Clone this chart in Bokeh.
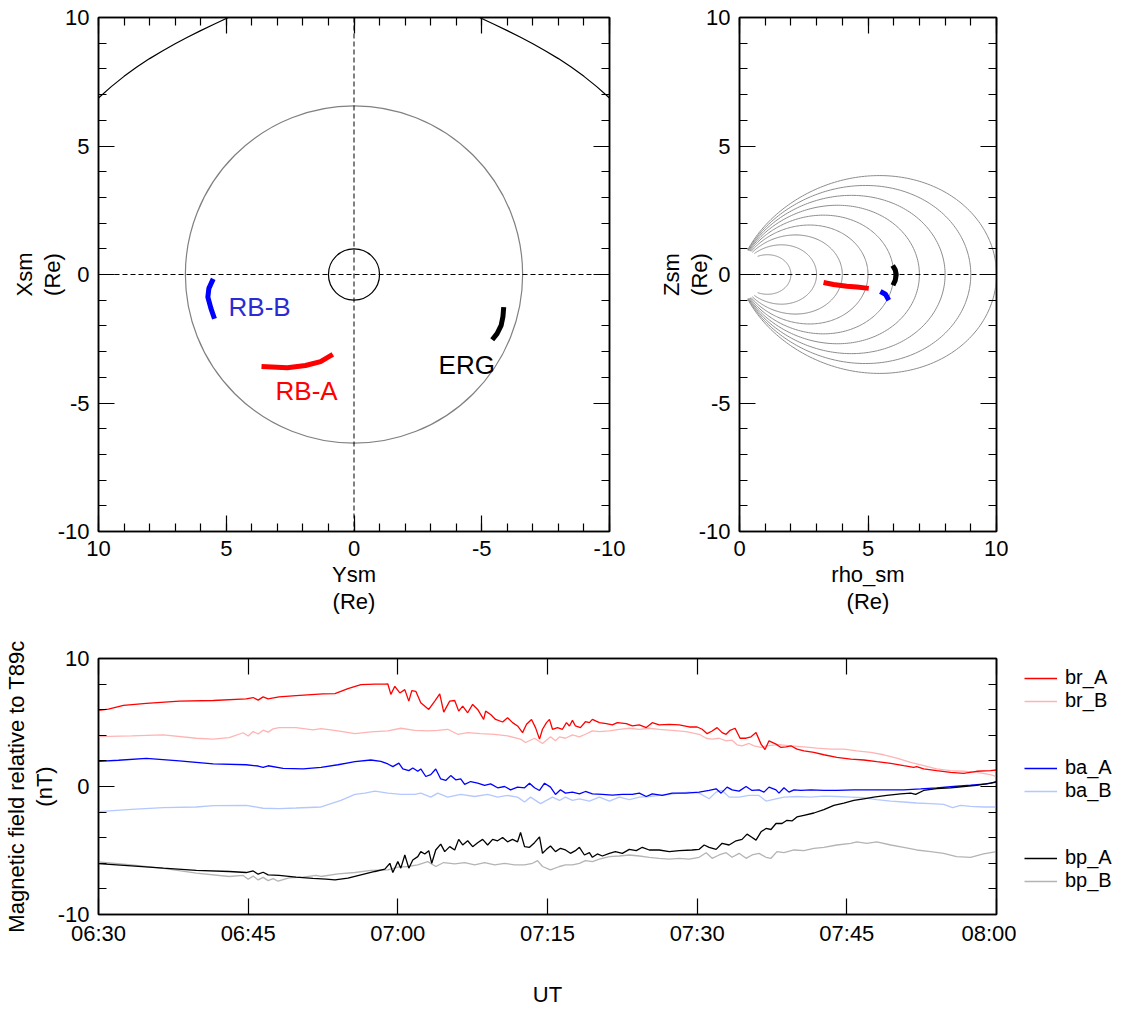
import numpy as np
import pandas as pd
from bokeh.plotting import figure
from bokeh.layouts import column, row
from bokeh.models import (Range1d, LinearAxis, SingleIntervalTicker, FixedTicker,
                          DatetimeTickFormatter, Legend, LegendItem, Span, Label)
from bokeh.embed import file_html
from bokeh.resources import INLINE

FONT = "Liberation Sans"
FS = "22px"

# ---------------- data: SM X-Y plane (Re) ----------------
earth_radius = 1.0
geo_radius = 6.6
mp_ysm = [11.0, 10.5, 10.0, 9.5, 9.0, 8.5, 8.0, 7.5, 7.0, 6.5, 6.0, 5.5, 5.0, 4.5, 4.0, 2.0, 0.0,
          -2.0, -4.0, -4.5, -5.0, -5.5, -6.0, -6.5, -7.0, -7.5, -8.0, -8.5, -9.0, -9.5, -10.0, -10.5, -11.0]
mp_xsm = [5.93, 6.41, 6.87, 7.31, 7.71, 8.07, 8.40, 8.70, 8.98, 9.24, 9.49, 9.73, 9.96, 10.18, 10.38, 10.75, 10.85,
          10.75, 10.38, 10.18, 9.96, 9.73, 9.49, 9.24, 8.98, 8.70, 8.40, 8.07, 7.71, 7.31, 6.87, 6.41, 5.93]

rbb_ysm = [5.51, 5.68, 5.72, 5.60, 5.46]
rbb_xsm = [-0.17, -0.54, -0.88, -1.32, -1.72]
rba_ysm = [3.62, 2.61, 1.90, 1.31, 0.83]
rba_xsm = [-3.58, -3.63, -3.54, -3.39, -3.11]
erg_ysm = [-5.86, -5.83, -5.76, -5.60, -5.41]
erg_xsm = [-1.27, -1.63, -1.98, -2.30, -2.54]

# ---------------- data: meridional plane (Re) ----------------
L_shells = [2, 3, 4, 5, 6, 7, 8, 9, 10]
rba_rho = [3.27, 3.66, 4.18, 4.57, 5.03]
rba_z = [-0.31, -0.39, -0.46, -0.49, -0.54]
rbb_rho = [5.48, 5.68, 5.81]
rbb_z = [-0.66, -0.77, -1.00]
erg_rho = [5.96, 6.06, 6.10, 6.06, 5.97]
erg_z = [0.35, 0.18, 0.0, -0.23, -0.42]

# ---------------- data: magnetic field residuals (minutes after 06:30, nT) ----------------
br_A = [(0, 5.95), (1.0, 6.05), (2.5, 6.33), (4.8, 6.49), (8.1, 6.67), (11.5, 6.72), (14.8, 6.85),
        (15.5, 6.95), (16.0, 6.75), (16.5, 7.0), (17.0, 6.85), (18.1, 7.0), (19.8, 7.1), (22.5, 7.23),
        (23.7, 7.26), (25.0, 7.65), (26.3, 7.96), (27.7, 8.0), (28.7, 8.0), (29.0, 8.01), (29.3, 7.2),
        (29.7, 7.83), (30.2, 7.31), (30.7, 7.57), (31.1, 6.67), (31.4, 7.49), (31.8, 7.44), (32.3, 6.54),
        (33.1, 6.02), (33.7, 6.67), (34.2, 7.24), (34.6, 5.81), (35.2, 6.67), (35.7, 6.72), (36.1, 5.89),
        (36.5, 6.28), (37.0, 5.76), (37.5, 6.41), (38.0, 6.02), (38.6, 5.24), (38.8, 5.89), (39.3, 5.63),
        (39.8, 5.24), (40.5, 5.04), (41.0, 5.37), (41.5, 4.99), (42.0, 4.73), (42.5, 4.21), (42.9, 4.86),
        (43.4, 5.24), (43.8, 4.6), (44.2, 3.7), (44.5, 4.47), (44.9, 4.99), (45.2, 5.24), (45.5, 4.47),
        (46.0, 4.6), (46.5, 4.47), (46.9, 4.99), (47.2, 4.73), (47.5, 5.17), (47.8, 4.73), (48.3, 4.6),
        (48.8, 5.06), (49.2, 4.99), (49.5, 5.24), (50.2, 4.99), (50.9, 4.91), (51.5, 4.81), (52.0, 4.99),
        (52.9, 4.91), (53.5, 4.73), (54.2, 4.81), (54.9, 4.6), (55.5, 4.99), (56.2, 4.81), (57.2, 4.86),
        (58.2, 4.81), (59.2, 4.65), (60.0, 4.65), (60.5, 4.47), (61.0, 4.13), (61.5, 4.34), (62.0, 4.6),
        (62.5, 4.21), (62.9, 4.08), (63.3, 4.39), (63.8, 4.55), (64.3, 3.77), (64.9, 3.77), (65.4, 3.88),
        (65.9, 4.21), (66.4, 3.31), (66.8, 2.89), (67.2, 3.57), (67.9, 3.31), (68.4, 3.05), (68.9, 3.1),
        (69.4, 3.18), (70.0, 2.92), (70.7, 2.79), (71.7, 2.66), (72.7, 2.48), (74.0, 2.27), (75.4, 2.14),
        (76.7, 2.07), (78.0, 1.94), (79.4, 1.81), (80.7, 1.63), (81.7, 1.5), (82.0, 1.55), (82.7, 1.37),
        (84.0, 1.24), (85.4, 1.11), (86.7, 1.03), (88.0, 1.19), (89.4, 1.24), (90.0, 1.29)]

br_B = [(0, 3.9), (3.3, 3.95), (6.5, 4.03), (9.8, 3.77), (11.5, 3.7), (13.1, 3.82), (14.5, 4.2),
        (15.0, 3.95), (15.5, 4.3), (16.0, 4.1), (16.5, 4.4), (17.0, 4.25), (17.5, 4.5), (18.1, 4.6),
        (19.8, 4.6), (21.5, 4.42), (22.3, 4.52), (24.0, 4.34), (25.7, 4.13), (27.3, 4.26), (29.0, 4.34),
        (30.3, 4.55), (31.7, 4.39), (33.0, 4.34), (34.0, 4.39), (35.0, 4.47), (36.0, 4.08), (37.0, 4.21),
        (38.3, 4.13), (39.7, 4.08), (41.0, 3.95), (42.3, 3.7), (42.8, 3.44), (43.7, 3.77), (44.5, 3.36),
        (45.3, 3.88), (45.8, 3.57), (46.2, 3.88), (46.8, 3.77), (47.5, 4.03), (48.2, 3.88), (48.8, 4.08),
        (49.5, 4.34), (50.2, 4.29), (51.2, 4.34), (52.2, 4.47), (53.2, 4.55), (54.2, 4.47), (55.2, 4.55),
        (56.2, 4.47), (57.5, 4.39), (58.9, 4.29), (60.2, 4.08), (60.9, 3.77), (61.5, 3.7), (62.2, 3.77),
        (62.9, 3.57), (63.5, 3.62), (64.0, 3.26), (64.5, 3.18), (65.2, 3.36), (65.7, 3.18), (66.4, 3.05),
        (66.9, 3.18), (67.9, 3.26), (68.4, 3.26), (69.4, 3.18), (70.7, 3.1), (72.0, 3.0), (73.4, 2.92),
        (74.7, 2.92), (76.0, 2.79), (77.4, 2.66), (78.7, 2.48), (80.0, 2.22), (81.4, 1.89), (82.7, 1.63),
        (84.0, 1.37), (85.4, 1.24), (86.7, 1.19), (88.0, 1.11), (89.4, 0.93), (90.0, 0.78)]

ba_A = [(0, 1.96), (2.0, 2.05), (4.8, 2.2), (8.1, 2.0), (11.5, 1.76), (14.8, 1.7), (16.0, 1.6),
        (16.5, 1.5), (17.0, 1.62), (18.5, 1.42), (20.5, 1.37), (22.3, 1.5), (24.0, 1.7), (25.7, 1.94),
        (27.3, 2.07), (28.3, 1.96), (29.0, 1.76), (29.5, 1.55), (30.1, 1.83), (30.5, 1.37), (31.1, 1.24),
        (31.5, 1.45), (32.0, 1.19), (32.3, 1.37), (32.8, 0.78), (33.3, 0.93), (33.8, 1.37), (34.3, 0.59),
        (34.8, 0.47), (35.3, 0.85), (35.8, 0.52), (36.3, 0.59), (36.7, 0.16), (37.3, 0.39), (38.0, 0.26),
        (38.7, 0.08), (39.3, 0.21), (40.0, -0.1), (40.7, 0.0), (41.3, -0.26), (42.0, -0.05), (42.7, -0.1),
        (43.2, 0.26), (43.7, -0.1), (44.2, -0.31), (44.7, 0.26), (45.3, -0.05), (45.8, -0.62), (46.3, -0.26),
        (46.8, -0.52), (47.5, -0.44), (48.2, -0.57), (48.8, -0.39), (49.5, -0.57), (50.5, -0.62),
        (51.5, -0.67), (52.5, -0.62), (53.5, -0.62), (54.2, -0.52), (54.9, -0.78), (55.5, -0.57),
        (56.5, -0.7), (57.5, -0.52), (58.9, -0.52), (60.2, -0.44), (61.2, -0.31), (61.9, -0.18),
        (62.4, -0.52), (63.0, -0.05), (63.5, -0.26), (64.2, -0.36), (64.9, 0.0), (65.5, -0.31),
        (66.2, -0.26), (66.7, -0.44), (67.2, -0.05), (67.9, -0.26), (68.2, -0.52), (68.7, -0.1),
        (69.2, -0.44), (69.7, -0.26), (70.4, -0.31), (71.4, -0.26), (72.7, -0.31), (74.0, -0.31),
        (75.7, -0.26), (77.4, -0.26), (79.0, -0.26), (80.7, -0.26), (82.4, -0.18), (84.0, -0.1),
        (85.7, 0.0), (87.4, 0.1), (89.0, 0.21), (90.0, 0.34)]

ba_B = [(0, -1.96), (3.3, -1.78), (6.5, -1.65), (9.8, -1.6), (11.5, -1.5), (14.8, -1.47), (16.5, -1.7),
        (18.1, -1.73), (19.8, -1.68), (22.3, -1.6), (24.3, -1.09), (25.7, -0.62), (26.7, -0.52),
        (27.7, -0.36), (29.0, -0.52), (30.3, -0.62), (31.7, -0.62), (32.3, -0.52), (33.3, -0.83),
        (34.0, -0.52), (35.0, -0.83), (36.3, -0.62), (37.7, -0.78), (39.0, -0.62), (40.0, -0.83),
        (41.0, -0.7), (42.0, -0.83), (42.7, -1.21), (43.3, -0.83), (44.3, -1.34), (45.5, -0.83),
        (46.2, -1.09), (46.8, -0.83), (47.5, -1.09), (48.2, -0.96), (49.2, -1.14), (50.2, -0.83),
        (51.2, -1.14), (52.2, -0.83), (53.2, -1.03), (54.2, -0.83), (55.2, -0.78), (56.2, -0.7),
        (57.2, -0.62), (58.2, -0.52), (59.2, -0.44), (60.2, -0.52), (61.2, -0.96), (61.9, -0.44),
        (62.5, -0.31), (63.2, -0.83), (64.2, -0.83), (65.2, -0.7), (66.2, -0.7), (66.9, -1.14),
        (67.9, -0.96), (68.7, -0.83), (70.0, -0.78), (71.4, -0.83), (72.7, -0.75), (74.0, -0.78),
        (75.4, -0.83), (76.7, -0.88), (78.0, -1.03), (79.4, -1.14), (80.7, -1.21), (82.0, -1.29),
        (83.4, -1.34), (84.7, -1.4), (85.6, -1.65), (86.4, -1.47), (87.4, -1.55), (88.7, -1.6), (90.0, -1.6)]

bp_A = [(0, -6.02), (3.3, -6.2), (6.5, -6.38), (9.8, -6.56), (13.1, -6.64), (14.8, -6.72), (15.5, -6.6),
        (16.0, -6.85), (16.5, -6.7), (17.0, -6.9), (18.1, -6.95), (19.8, -7.08), (21.5, -7.18),
        (22.8, -7.23), (23.7, -7.29), (25.0, -7.16), (26.3, -6.9), (27.7, -6.64), (28.7, -6.46),
        (29.2, -6.0), (29.5, -6.72), (30.0, -5.87), (30.3, -6.38), (30.7, -5.35), (31.1, -6.38),
        (31.5, -5.74), (32.0, -5.48), (32.3, -5.09), (32.7, -5.27), (33.1, -5.01), (33.4, -6.0),
        (33.8, -4.96), (34.3, -4.5), (34.7, -5.09), (35.2, -4.7), (35.7, -4.96), (36.1, -4.13),
        (36.5, -4.57), (37.0, -4.24), (37.5, -4.7), (38.0, -4.39), (38.5, -4.13), (39.0, -4.57),
        (39.5, -4.13), (40.0, -4.24), (40.5, -3.98), (41.0, -4.32), (41.5, -4.13), (42.0, -4.32),
        (42.3, -3.59), (42.7, -4.7), (43.2, -4.75), (43.7, -4.39), (44.2, -3.93), (44.5, -5.22),
        (44.9, -4.91), (45.3, -4.65), (45.8, -5.09), (46.3, -4.83), (46.8, -4.96), (47.3, -5.22),
        (47.8, -5.01), (48.2, -4.75), (48.7, -5.35), (49.2, -5.17), (49.5, -5.53), (50.0, -5.27),
        (50.5, -5.43), (51.2, -5.22), (51.8, -5.09), (52.5, -5.22), (53.2, -4.91), (53.9, -5.01),
        (54.5, -4.75), (55.2, -4.96), (56.2, -4.96), (57.2, -5.09), (58.2, -5.01), (59.5, -4.96),
        (60.2, -4.91), (60.7, -4.57), (61.2, -4.75), (61.9, -4.91), (62.5, -4.44), (63.2, -4.57),
        (63.9, -4.24), (64.5, -4.13), (65.0, -3.72), (65.4, -3.93), (65.9, -4.19), (66.4, -3.54),
        (66.9, -3.28), (67.4, -3.36), (67.9, -2.89), (68.5, -2.89), (69.0, -2.64), (69.5, -2.69),
        (70.0, -2.38), (70.7, -2.25), (71.7, -2.07), (72.7, -1.81), (73.7, -1.47), (74.7, -1.29),
        (75.7, -1.09), (76.7, -0.96), (77.7, -0.83), (79.0, -0.7), (80.4, -0.57), (81.4, -0.52),
        (81.9, -0.62), (82.7, -0.31), (84.0, -0.16), (85.4, -0.1), (86.7, 0.0), (88.0, 0.08),
        (89.4, 0.26), (90.0, 0.39)]

bp_B = [(0, -5.9), (3.3, -6.12), (6.5, -6.4), (9.8, -6.77), (13.1, -7.03), (14.5, -6.95), (15.0, -7.25),
        (15.5, -7.0), (16.0, -7.3), (16.5, -7.1), (17.0, -7.35), (17.5, -7.2), (18.0, -7.4), (19.1, -7.13),
        (20.5, -7.08), (21.8, -6.95), (22.3, -7.03), (24.0, -6.82), (25.7, -6.72), (27.3, -6.56),
        (29.0, -6.51), (30.0, -6.3), (31.0, -6.25), (32.0, -6.12), (33.0, -5.87), (33.8, -6.25),
        (34.6, -5.94), (35.7, -6.05), (36.7, -5.94), (37.7, -6.12), (38.7, -5.94), (39.7, -6.12),
        (40.7, -6.0), (41.7, -6.12), (42.7, -6.12), (43.5, -6.0), (44.0, -5.79), (44.5, -6.25),
        (45.3, -6.51), (46.2, -6.25), (46.8, -6.12), (47.5, -6.12), (48.2, -6.0), (48.8, -5.79),
        (49.5, -5.87), (50.2, -5.68), (51.2, -5.48), (52.2, -5.43), (53.2, -5.35), (54.2, -5.43),
        (55.2, -5.53), (56.2, -5.61), (57.2, -5.68), (58.2, -5.61), (59.2, -5.68), (60.2, -5.53),
        (60.9, -5.17), (61.5, -5.61), (62.2, -5.35), (62.9, -5.17), (63.5, -5.53), (64.2, -5.22),
        (64.9, -5.61), (65.5, -5.35), (66.2, -5.22), (66.9, -5.53), (67.4, -5.61), (68.0, -5.09),
        (68.7, -5.17), (69.7, -4.96), (70.7, -5.01), (71.7, -4.83), (72.7, -4.75), (74.0, -4.57),
        (75.4, -4.44), (76.0, -4.32), (77.0, -4.44), (78.0, -4.32), (79.4, -4.57), (80.7, -4.75),
        (82.0, -4.96), (83.4, -5.09), (84.7, -5.22), (86.0, -5.48), (87.4, -5.53), (88.7, -5.27),
        (90.0, -5.09)]

time_start = "06:30"
time_tick_minutes = [0, 15, 30, 45, 60, 75, 90]

# ---------------- helpers ----------------
def style_axis(ax, standoff_label=5, standoff_tick=6):
    ax.major_label_text_font = FONT
    ax.major_label_text_font_size = FS
    ax.major_label_text_color = "black"
    ax.axis_label_text_font = FONT
    ax.axis_label_text_font_size = FS
    ax.axis_label_text_font_style = "normal"
    ax.axis_label_text_color = "black"
    ax.axis_label_text_line_height = 1.1
    ax.major_tick_in = 16
    ax.major_tick_out = 0
    ax.minor_tick_in = 8
    ax.minor_tick_out = 0
    ax.major_tick_line_color = "black"
    ax.minor_tick_line_color = "black"
    ax.major_tick_line_width = 1.2
    ax.minor_tick_line_width = 1.2
    ax.axis_line_color = "black"
    ax.axis_line_width = 1.5
    ax.major_label_standoff = standoff_tick
    ax.axis_label_standoff = standoff_label


def add_mirror(p, xticker, yticker):
    top = LinearAxis(ticker=xticker)
    right = LinearAxis(ticker=yticker)
    for ax in (top, right):
        style_axis(ax, 0, 0)
        ax.major_label_text_font_size = "0px"
        ax.major_label_text_alpha = 0
    p.add_layout(top, "above")
    p.add_layout(right, "right")


def base_fig(**kw):
    p = figure(output_backend="svg", toolbar_location=None, **kw)
    p.xgrid.visible = False
    p.ygrid.visible = False
    p.outline_line_color = "black"
    p.outline_line_width = 1.5
    p.background_fill_color = "white"
    p.border_fill_color = "white"
    return p


neg_labels = {-10: "-10", -5: "-5"}

# ---------------- panel 1: X-Y plane ----------------
p1 = base_fig(frame_width=511, frame_height=514, x_range=Range1d(10, -10), y_range=Range1d(-10, 10),
              min_border_left=98, min_border_right=31, min_border_top=17, min_border_bottom=99,
              x_axis_label="Ysm\n(Re)", y_axis_label="Xsm\n(Re)")
t1 = SingleIntervalTicker(interval=5, num_minor_ticks=5)
p1.xaxis.ticker = t1
p1.yaxis.ticker = t1
style_axis(p1.xaxis[0], 3, 9)
style_axis(p1.yaxis[0], -10, 9)
p1.xaxis.major_label_overrides = neg_labels
p1.yaxis.major_label_overrides = neg_labels
add_mirror(p1, t1, t1)

p1.add_layout(Span(location=0, dimension="height", line_color="black", line_width=1, line_dash="5 3"))
p1.add_layout(Span(location=0, dimension="width", line_color="black", line_width=1, line_dash="5 3"))
p1.line(mp_ysm, mp_xsm, line_color="black", line_width=1.2)
p1.circle(x=[0], y=[0], radius=geo_radius, fill_color=None, line_color="#808080", line_width=1.2)
p1.circle(x=[0], y=[0], radius=earth_radius, fill_color=None, line_color="black", line_width=1.2)
p1.line(rbb_ysm, rbb_xsm, line_color="#0000ff", line_width=5)
p1.line(rba_ysm, rba_xsm, line_color="#ff0000", line_width=5)
p1.line(erg_ysm, erg_xsm, line_color="black", line_width=5)
for txt, xx, yy, col in [("RB-B", 4.91, -1.25, "#2b2bd6"), ("RB-A", 3.07, -4.55, "#ff0000"),
                         ("ERG", -3.31, -3.54, "black")]:
    p1.add_layout(Label(x=xx, y=yy, text=txt, text_color=col, text_font=FONT, text_font_size="26px",
                        text_align="left", text_baseline="middle"))

# ---------------- panel 2: meridional plane ----------------
p2 = base_fig(frame_width=257, frame_height=514, x_range=Range1d(0, 10), y_range=Range1d(-10, 10),
              min_border_left=99, min_border_right=12, min_border_top=17, min_border_bottom=99,
              x_axis_label="rho_sm\n(Re)", y_axis_label="Zsm\n(Re)")
p2.xaxis.ticker = t1
p2.yaxis.ticker = t1
style_axis(p2.xaxis[0], 3, 9)
style_axis(p2.yaxis[0], -16, 9)
p2.yaxis.major_label_overrides = neg_labels
add_mirror(p2, t1, t1)
p2.add_layout(Span(location=0, dimension="width", line_color="black", line_width=1, line_dash="5 3"))
fl_rho, fl_z = [], []
for L in L_shells:
    lam0 = np.arccos(np.sqrt(1.0 / L))
    lam = np.linspace(-lam0, lam0, 241)
    r = L * np.cos(lam) ** 2
    fl_rho.append(r * np.cos(lam))
    fl_z.append(r * np.sin(lam))
p2.multi_line(fl_rho, fl_z, line_color="#8c8c8c", line_width=1)
p2.line(rba_rho, rba_z, line_color="#ff0000", line_width=5)
p2.line(rbb_rho, rbb_z, line_color="#0000ff", line_width=5)
p2.line(erg_rho, erg_z, line_color="black", line_width=5)

# ---------------- panel 3: time series ----------------
base_t = pd.Timestamp("2017-01-01 " + time_start)


def to_xy(pairs):
    return ([base_t + pd.Timedelta(minutes=m) for m, _ in pairs], [v for _, v in pairs])


tick_ms = [(base_t + pd.Timedelta(minutes=m)).value / 1e6 for m in time_tick_minutes]
x0 = base_t
x1 = base_t + pd.Timedelta(minutes=time_tick_minutes[-1])

P3_H = 28 + 256 + 94
p3 = base_fig(frame_width=898, frame_height=256, x_axis_type="datetime", x_range=(x0, x1),
              y_range=Range1d(-10, 10),
              min_border_left=98, min_border_right=20, min_border_top=28, min_border_bottom=94,
              x_axis_label="UT", y_axis_label="Magnetic field relative to T89c\n(nT)")
tx = FixedTicker(ticks=tick_ms)
ty = SingleIntervalTicker(interval=10, num_minor_ticks=5)
p3.xaxis.ticker = tx
p3.xaxis.formatter = DatetimeTickFormatter(minsec="%H:%M", minutes="%H:%M", hourmin="%H:%M", hours="%H:%M")
p3.yaxis.ticker = ty
style_axis(p3.xaxis[0], 33, 6)
style_axis(p3.yaxis[0], -2, 9)
p3.yaxis.major_label_overrides = {-10: "-10"}
add_mirror(p3, tx, ty)

series = [("br_A", br_A, "#ff0000"), ("br_B", br_B, "#ffb4b4"),
          ("ba_A", ba_A, "#0000ff"), ("ba_B", ba_B, "#b4c8ff"),
          ("bp_A", bp_A, "#000000"), ("bp_B", bp_B, "#b4b4b4")]
draw_order = [1, 3, 5, 0, 2, 4]
for i in draw_order:
    name, pairs, col = series[i]
    xs, ys = to_xy(pairs)
    p3.line(xs, ys, line_color=col, line_width=1.3)

# ---------------- legend panel (right of the time series) ----------------
p4 = figure(width=104, height=P3_H, output_backend="svg", toolbar_location=None,
            x_range=Range1d(0, 1), y_range=Range1d(0, 1),
            x_axis_location=None, y_axis_location=None,
            min_border_left=0, min_border_right=0, min_border_top=0, min_border_bottom=0)
p4.xgrid.visible = False
p4.ygrid.visible = False
p4.outline_line_color = None
p4.background_fill_color = "white"
p4.border_fill_color = "white"

proxies = {}
for name, pairs, col in series:
    proxies[name] = p4.line([np.nan, np.nan], [np.nan, np.nan], line_color=col, line_width=1.6)
blank = p4.line([np.nan, np.nan], [np.nan, np.nan], line_alpha=0)
legend_order = ["br_A", "br_B", None, None, "ba_A", "ba_B", None, None, "bp_A", "bp_B"]
items = []
for name in legend_order:
    if name is None:
        items.append(LegendItem(label=" ", renderers=[blank]))
    else:
        items.append(LegendItem(label=name, renderers=[proxies[name]]))
lg = Legend(items=items, location=(8, 21), padding=0, margin=0, spacing=0,
            glyph_width=33, glyph_height=22, label_height=22, label_standoff=8,
            label_text_font=FONT, label_text_font_size="20px", label_text_color="black",
            background_fill_alpha=0, border_line_alpha=0)
p4.add_layout(lg, "center")

layout = column(row(p1, p2), row(p3, p4))
open("out.html", "w").write(file_html(layout, INLINE))
